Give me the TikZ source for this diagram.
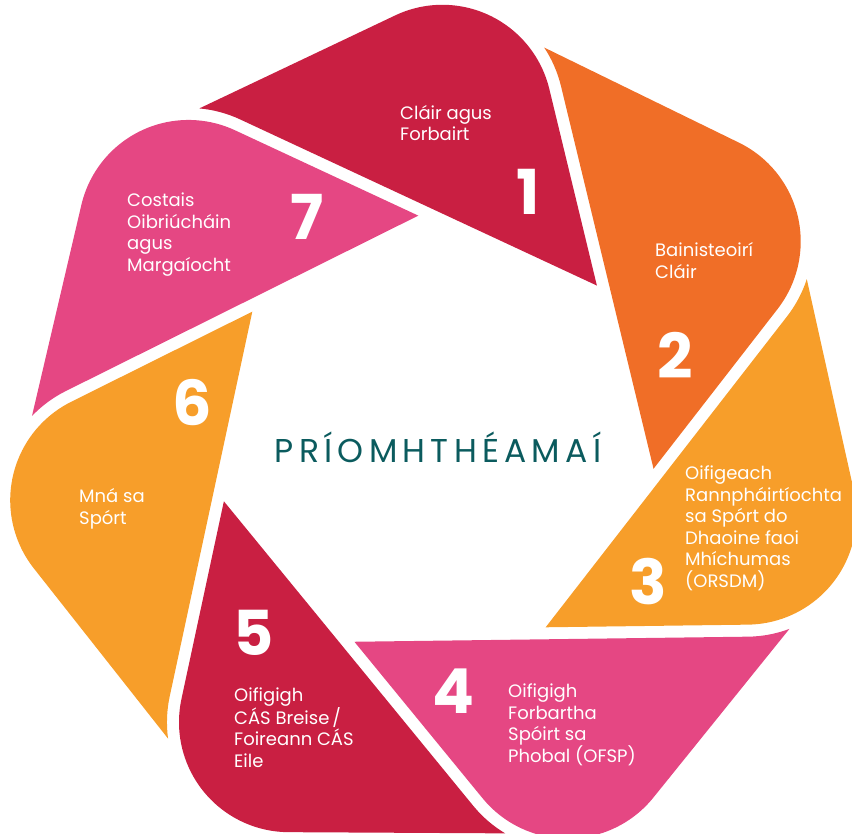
\documentclass[tikz,border=0pt]{standalone}
\usepackage{fontspec}
\setmainfont{Poppins}
\definecolor{bladecrimson}{RGB}{201,31,66}
\definecolor{bladeorange}{RGB}{240,110,39}
\definecolor{bladeamber}{RGB}{247,158,42}
\definecolor{bladepink}{RGB}{229,71,131}
\definecolor{themeteal}{RGB}{11,91,94}
\begin{document}
\begin{tikzpicture}[x=1pt,y=1pt,
    lbl/.style={text=white,align=left,anchor=base west,inner sep=0pt,font=\fontsize{18}{21.5}\selectfont},
    num/.style={text=white,inner sep=0pt,font=\fontsize{62}{62}\selectfont\bfseries}]
    \useasboundingbox (-435,-398) rectangle (417,436);
    % seven blades, one shape turned round the centre
    \foreach \k/\col in {0/bladecrimson,1/bladeorange,2/bladeamber,3/bladepink,4/bladecrimson,5/bladeamber,6/bladepink}
        \fill[\col,rotate=-\k*360/7] (-235.65,327.58) -- (-39.70,420.62)
            arc[start angle=115.35,end angle=13.64,radius=110] -- (161.89,150.44)
            -- (-195.03,316.67) arc[start angle=65.03,end angle=84.88,radius=122] -- cycle;
    \node[text=themeteal,inner sep=0pt,anchor=base,font=\fontsize{33}{33}\selectfont\addfontfeature{LetterSpace=16}] (title) at (3,-27) {PRÍOMHTHÉAMAÍ};
    \node[num] (n1) at (93,244) {1};
    \node[num] (n2) at (240,81) {2};
    \node[num] (n3) at (213,-146) {3};
    \node[num] (n4) at (18,-255) {4};
    \node[num] (n5) at (-181,-197) {5};
    \node[num] (n6) at (-243,33) {6};
    \node[num] (n7) at (-128,219) {7};
    % labels sit on the baseline of their last line
    \node[lbl] (t1) at (-35,295) {Cláir agus\\Forbairt};
    \node[lbl] (t2) at (220,157.5) {Bainisteoirí\\Cláir};
    \node[lbl] (t3) at (250,-151.5) {Oifigeach\\Rannpháirtíochta\\sa Spórt do\\Dhaoine faoi\\Mhíchumas\\(ORSDM)};
    \node[lbl] (t4) at (73,-326.5) {Oifigigh\\Forbartha\\Spóirt sa\\Phobal (OFSP)};
    \node[lbl] (t5) at (-201,-331.5) {Oifigigh\\CÁS Breise\,/\\Foireann CÁS\\Eile};
    \node[lbl] (t6) at (-356,-88.5) {Mná sa\\Spórt};
    \node[lbl] (t7) at (-308,164.5) {Costais\\Oibriúcháin\\agus\\Margaíocht};
\end{tikzpicture}
\end{document}
